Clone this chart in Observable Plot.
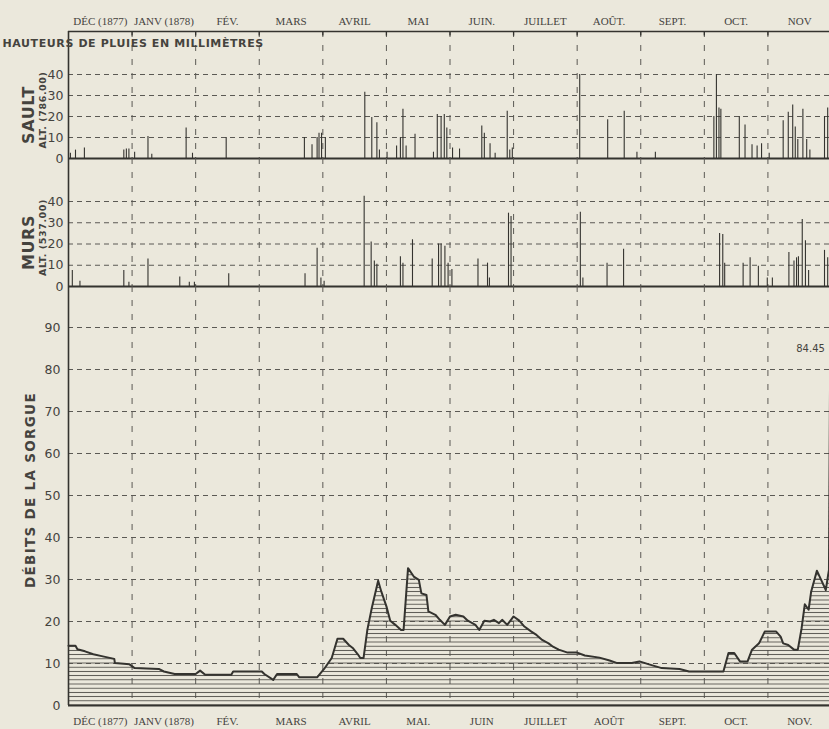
<!DOCTYPE html>
<html>
<head>
<meta charset="utf-8">
<script src="https://cdn.jsdelivr.net/npm/d3@7"></script>
<script src="https://cdn.jsdelivr.net/npm/@observablehq/plot@0.6"></script>
<style>
  html, body { margin: 0; padding: 0; background: #ebe8dc; }
  body { width: 829px; height: 729px; overflow: hidden; }
  #chart svg { display: block; }
</style>
</head>
<body>
<div id="chart"></div>
<script>
// Month labels (Dec 1877 – Nov 1878); the top and bottom rows are lettered slightly differently
const monthsTop = ["DÉC (1877)", "JANV (1878)", "FÉV.", "MARS", "AVRIL", "MAI", "JUIN.", "JUILLET", "AOÛT.", "SEPT.", "OCT.", "NOV"];
const monthsBottom = ["DÉC (1877)", "JANV (1878)", "FÉV.", "MARS", "AVRIL", "MAI.", "JUIN", "JUILLET", "AOÛT", "SEPT.", "OCT.", "NOV."];

// Daily rainfall, [months since 1 Dec 1877, millimetres]
const saultRain = [
  [0.03, 2.5], [0.11, 4], [0.25, 5], [0.87, 4], [0.91, 4.5], [0.95, 4.5], [1.04, 3], [1.25, 10.5], [1.31, 2],
  [1.85, 14.5], [1.95, 2.5], [2.48, 10], [3.71, 10], [3.83, 6.5], [3.91, 10], [3.94, 12], [3.98, 12], [4.04, 10],
  [4.66, 31.5], [4.77, 19.5], [4.85, 17], [4.89, 4], [5.01, 3], [5.16, 6], [5.22, 10], [5.26, 23.5], [5.31, 6],
  [5.45, 11.5], [5.74, 3], [5.80, 21], [5.86, 20], [5.91, 21], [5.95, 14.5], [6.04, 5], [6.15, 4.5], [6.50, 15.5],
  [6.54, 12], [6.63, 7], [6.71, 2.5], [6.90, 22.5], [6.94, 4], [6.98, 5], [8.04, 40], [8.48, 18.5], [8.74, 22.5],
  [8.94, 3], [9.23, 3], [10.15, 20], [10.19, 40], [10.23, 24], [10.26, 23.5], [10.55, 20], [10.64, 16], [10.75, 6.5],
  [10.83, 6], [10.90, 7], [11.02, 2.5], [11.24, 18], [11.32, 22], [11.39, 25.5], [11.43, 15], [11.47, 9], [11.55, 23.5],
  [11.61, 9], [11.66, 4], [11.89, 20], [11.94, 24]
];
const mursRain = [
  [0.06, 7.5], [0.18, 2.5], [0.87, 7.5], [0.95, 2], [1.25, 13], [1.75, 4.5], [1.90, 2], [1.98, 2], [2.52, 6],
  [3.72, 6], [3.91, 18], [3.97, 4], [4.02, 2.5], [4.65, 42.5], [4.76, 21], [4.81, 12], [4.85, 10.5], [5.22, 14],
  [5.26, 11], [5.41, 22], [5.72, 13], [5.82, 20], [5.86, 20], [5.92, 19], [5.97, 11], [6.03, 8], [6.44, 13],
  [6.59, 11], [6.62, 4], [6.92, 34.5], [6.96, 33], [8.05, 35], [8.09, 4], [8.47, 11], [8.73, 17.5], [10.24, 25],
  [10.29, 24.5], [10.32, 11], [10.61, 11], [10.72, 13.5], [10.85, 9.5], [10.99, 4], [11.07, 4], [11.33, 16],
  [11.41, 12], [11.45, 13.5], [11.48, 14], [11.54, 31.5], [11.59, 21.5], [11.64, 7.5], [11.89, 17], [11.94, 13.5]
];

// Discharge of the Sorgue, [months since 1 Dec 1877, cubic metres per second]
const sorgueFlow = [
  [0, 14.2], [0.11, 14.2], [0.14, 13.4], [0.26, 12.9], [0.39, 12.2], [0.54, 11.7], [0.72, 11.1], [0.73, 10.1],
  [0.96, 9.8], [1.04, 8.9], [1.42, 8.7], [1.50, 8.1], [1.67, 7.5], [2.00, 7.5], [2.07, 8.3], [2.15, 7.3],
  [2.56, 7.3], [2.59, 8.1], [3.04, 8.1], [3.08, 7.5], [3.22, 6.1], [3.28, 7.5], [3.59, 7.5], [3.63, 6.7],
  [3.91, 6.7], [4.02, 8.7], [4.14, 11.3], [4.23, 15.9], [4.32, 15.9], [4.41, 14.4], [4.47, 13.7], [4.55, 12.2],
  [4.59, 11.3], [4.64, 11.3], [4.70, 18], [4.77, 23.2], [4.87, 29.7], [4.92, 27.1], [5.00, 23.6], [5.06, 20.2],
  [5.14, 19.2], [5.23, 18], [5.27, 18], [5.34, 32.7], [5.43, 30.7], [5.51, 29.9], [5.55, 26.7], [5.63, 26.3],
  [5.66, 22.4], [5.77, 21.6], [5.84, 20.4], [5.92, 19.2], [6.00, 21.2], [6.09, 21.6], [6.21, 21.2], [6.28, 20.2],
  [6.40, 19.2], [6.46, 18], [6.54, 20.2], [6.63, 20], [6.69, 20.4], [6.77, 19.6], [6.82, 20.4], [6.90, 19.2],
  [7.00, 21.2], [7.09, 20.2], [7.17, 18.8], [7.28, 17.6], [7.36, 16.8], [7.45, 15.6], [7.55, 14.8], [7.62, 14],
  [7.71, 13.3], [7.85, 12.6], [8.00, 12.6], [8.12, 11.9], [8.35, 11.4], [8.51, 10.7], [8.63, 10.1], [8.86, 10.1],
  [8.98, 10.5], [9.13, 9.8], [9.33, 8.9], [9.61, 8.7], [9.76, 8.1], [10.30, 8.1], [10.38, 12.5], [10.47, 12.5],
  [10.56, 10.5], [10.68, 10.5], [10.75, 13.3], [10.86, 14.8], [10.95, 17.6], [11.13, 17.6], [11.20, 16.4],
  [11.24, 14.8], [11.32, 14.4], [11.41, 13.3], [11.47, 13.3], [11.53, 18.4], [11.58, 24.1], [11.64, 22.8],
  [11.68, 27.1], [11.77, 32.1], [11.85, 29.5], [11.91, 27.5], [11.96, 32.3], [11.98, 84.45]
];

const rainTicks = [0, 10, 20, 30, 40];
const flowTicks = [0, 10, 20, 30, 40, 50, 60, 70, 80, 90];
const peakLabel = "84.45";

const ink = "#34332f";
const gridInk = "#5b5954";
const labelInk = "#45433e";
const sansFont = "DejaVu Sans, sans-serif";
const serifFont = "Liberation Serif, serif";

const bounds = d3.range(1, 12);
const dashH = {stroke: gridInk, strokeWidth: 1, strokeDasharray: "5,4"};
const dashV = {stroke: gridInk, strokeWidth: 1, strokeDasharray: "6,8"};

function frameOptions(height, marginTop, marginBottom, yTop) {
  return {
    width: 829, height, marginTop, marginBottom, marginLeft: 68, marginRight: 0,
    style: {background: "transparent", overflow: "visible"},
    x: {domain: [0, 12], range: [68, 831], axis: null},
    y: {domain: [0, yTop], axis: null}
  };
}

const toRows = (pairs, key) => pairs.map(([t, v]) => ({t, [key]: v}));

// Rotated side titles, centred on their own position
const sideTitle = (label, dx, dy, fontSize) =>
  Plot.text([label], {frameAnchor: "left", rotate: -90, dx, dy, textAnchor: "middle", lineAnchor: "middle",
    fontSize, fontWeight: "bold", fontFamily: sansFont, fill: labelInk});

function rainPanel(pairs, {height, marginTop, yTop, name, alt, nameDy, altDy, extra = []}) {
  const rows = toRows(pairs, "mm");
  return Plot.plot({
    ...frameOptions(height, marginTop, 0, yTop),
    marks: [
      Plot.ruleY(rainTicks.filter(d => d > 0), dashH),
      Plot.ruleX(bounds, dashV),
      Plot.ruleX(rows, {x: "t", y1: 0, y2: "mm", stroke: ink, strokeWidth: 1.1}),
      Plot.ruleY([0], {stroke: ink, strokeWidth: 2.2}),
      Plot.ruleX([0], {stroke: ink, strokeWidth: 1.6}),
      Plot.text(rainTicks, {y: d => d, frameAnchor: "left", dx: -5, textAnchor: "end", lineAnchor: "middle",
        fontSize: 12.5, fontFamily: sansFont, fill: labelInk}),
      sideTitle(name, -40, nameDy, 16),
      sideTitle(alt, -26, altDy, 9.5),
      ...extra
    ]
  });
}

const saultTop = 127 / 2.1;
const sault = rainPanel(saultRain, {
  height: 158, marginTop: 31, yTop: saultTop, name: "SAULT", alt: "ALT. (786.00)", nameDy: 20, altDy: 15,
  extra: [
    Plot.ruleY([saultTop], {stroke: ink, strokeWidth: 1.5}),
    Plot.ruleX(bounds, {y1: saultTop - 2.2, y2: saultTop, stroke: ink, strokeWidth: 1.3}),
    Plot.text(monthsTop, {x: (d, i) => i + 0.5, frameAnchor: "top", dy: -10, textAnchor: "middle", lineAnchor: "middle",
      fontSize: 11, fontFamily: serifFont, fill: labelInk}),
    Plot.text(["HAUTEURS DE PLUIES EN MILLIMÈTRES"], {frameAnchor: "top-left", dx: -66, dy: 12,
      textAnchor: "start", lineAnchor: "middle", fontSize: 11, fontWeight: "bold", fontFamily: sansFont, fill: labelInk})
  ]
});

const murs = rainPanel(mursRain, {
  height: 128, marginTop: 0, yTop: 128 / 2.125, name: "MURS", alt: "ALT. (537.00)", nameDy: 20, altDy: 15
});

const flowRows = toRows(sorgueFlow, "q");
const peak = flowRows[flowRows.length - 1];
const sorgue = Plot.plot({
  ...frameOptions(443, 0, 24, 419 / 4.2),
  marks: [
    Plot.ruleY(flowTicks.filter(d => d > 0), dashH),
    Plot.ruleX(bounds, dashV),
    Plot.areaY(flowRows, {x: "t", y: "q", fill: "url(#sorgue-hatch)"}),
    Plot.lineY(flowRows, {x: "t", y: "q", stroke: ink, strokeWidth: 2, strokeLinejoin: "round"}),
    Plot.ruleY([0], {stroke: ink, strokeWidth: 2.2}),
    Plot.ruleX([0], {stroke: ink, strokeWidth: 1.6}),
    Plot.text(flowTicks, {y: d => d, frameAnchor: "left", dx: -8, textAnchor: "end", lineAnchor: "middle",
      fontSize: 12.5, fontFamily: sansFont, fill: labelInk}),
    sideTitle("DÉBITS DE LA SORGUE", -38, -6, 13.5),
    Plot.text(monthsBottom, {x: (d, i) => i + 0.5, frameAnchor: "bottom", dy: 16, textAnchor: "middle", lineAnchor: "middle",
      fontSize: 11, fontFamily: serifFont, fill: labelInk}),
    Plot.text([peak], {x: "t", y: "q", text: () => peakLabel, textAnchor: "start", lineAnchor: "middle", dx: -34, dy: -2,
      fontSize: 10, fontFamily: sansFont, fill: labelInk})
  ]
});

// Horizontal hatching under the discharge curve: one line per m³/s
{
  const y = sorgue.scale("y");
  const y0 = y.apply(0);
  const step = y0 - y.apply(1);
  const ns = "http://www.w3.org/2000/svg";
  const defs = document.createElementNS(ns, "defs");
  const pattern = document.createElementNS(ns, "pattern");
  pattern.setAttribute("id", "sorgue-hatch");
  pattern.setAttribute("patternUnits", "userSpaceOnUse");
  pattern.setAttribute("x", 0);
  pattern.setAttribute("y", y0 - step / 2);
  pattern.setAttribute("width", 12);
  pattern.setAttribute("height", step);
  const line = document.createElementNS(ns, "line");
  line.setAttribute("x1", 0); line.setAttribute("x2", 12);
  line.setAttribute("y1", step / 2); line.setAttribute("y2", step / 2);
  line.setAttribute("stroke", "#4f4d48");
  line.setAttribute("stroke-width", 0.9);
  pattern.appendChild(line);
  defs.appendChild(pattern);
  sorgue.insertBefore(defs, sorgue.firstChild);
}

// Letter spacing for the lettered titles
for (const svg of [sault, murs, sorgue]) {
  d3.select(svg).selectAll("text")
    .filter(function () { return /^(HAUTEURS|DÉBITS|SAULT|MURS|ALT)/.test(this.textContent); })
    .style("letter-spacing", function () { return this.textContent.startsWith("DÉBITS") ? "1.3px" : "0.6px"; });
}

const chart = document.getElementById("chart");
chart.append(sault, murs, sorgue);
</script>
</body>
</html>
